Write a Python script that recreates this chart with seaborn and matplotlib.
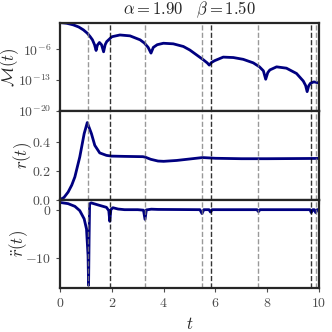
import numpy as np
import pandas as pd
import seaborn as sns
import matplotlib
matplotlib.use("Agg")
from matplotlib import pyplot as plt

# values
alpha = 1.90
beta = 1.50

t_M = [0.0, 0.25, 0.51, 0.72, 0.9, 1.05, 1.16, 1.25, 1.33, 1.39, 1.44, 1.52, 1.6, 1.68,
       1.74, 1.8, 2.0, 2.31, 2.7, 3.09, 3.25, 3.4, 3.51, 3.6, 3.75, 3.99, 4.37, 4.76,
       5.01, 5.27, 5.53, 5.68, 5.76, 5.85, 5.97, 6.3, 6.69, 7.07, 7.46, 7.7, 7.85, 7.94,
       8.02, 8.1, 8.36, 8.74, 9.13, 9.39, 9.48, 9.54, 9.6, 9.67, 9.8, 9.96, 10.0]
log_M = [0.0, -0.15, -0.52, -1.0, -1.65, -2.4, -3.17, -3.9, -5.0, -6.3, -5.1, -4.5, -5.0,
         -6.6, -5.0, -4.3, -3.2, -2.8, -3.0, -3.9, -4.6, -5.6, -6.9, -5.6, -5.0, -4.67,
         -4.8, -5.4, -6.2, -7.3, -8.4, -9.1, -9.6, -9.0, -8.6, -7.8, -7.9, -8.3, -9.1,
         -10.0, -10.9, -12.8, -11.3, -10.7, -10.0, -10.3, -11.5, -13.2, -14.2, -15.6,
         -14.3, -13.7, -13.4, -13.6, -13.7]

t_r = [0.0, 0.15, 0.31, 0.45, 0.57, 0.76, 0.93, 1.05, 1.21, 1.34, 1.53, 1.79, 1.98, 2.5,
       3.2, 3.3, 3.5, 3.78, 4.0, 4.5, 5.0, 5.5, 6.0, 7.0, 8.0, 9.0, 10.0]
r_vals = [0.0, 0.015, 0.052, 0.1, 0.156, 0.294, 0.455, 0.531, 0.455, 0.374, 0.322, 0.305,
          0.30, 0.298, 0.296, 0.292, 0.278, 0.266, 0.264, 0.270, 0.280, 0.290, 0.285,
          0.282, 0.282, 0.283, 0.284]

t_rdd = [0.0, 0.05, 0.31, 0.57, 0.76, 0.93, 1.02, 1.08, 1.1, 1.12, 1.14, 1.2, 1.47, 1.79,
         1.88, 1.92, 1.96, 2.04, 2.24, 2.49, 3.0, 3.22, 3.28, 3.33, 3.52, 3.78, 5.4, 5.48,
         5.55, 5.75, 5.81, 5.87, 7.6, 7.66, 7.72, 9.65, 9.7, 9.76, 9.82, 9.87, 9.93, 10.0]
rdd_vals = [1.45, 1.45, 1.24, 0.69, -0.2, -1.9, -4.0, -9.5, -15.6, -6.0, 1.2, 1.4, 0.97,
            0.48, -0.2, -2.4, 0.0, 0.4, 0.13, 0.0, 0.0, -0.1, -2.0, -0.05, 0.1, 0.05, 0.0,
            -0.8, 0.0, 0.0, -0.5, 0.0, 0.0, -0.4, 0.0, 0.0, -0.6, 0.0, 0.0, -0.6, 0.0, 0.0]

grey_lines = [1.09, 3.28, 5.48, 7.66, 9.87]
black_lines = [1.94, 5.82, 9.70]

sns.set_theme(style="ticks")
plt.rcParams.update({
    "font.family": "serif",
    "font.serif": ["cmr10"],
    "mathtext.fontset": "cm",
    "axes.formatter.use_mathtext": True,
    "axes.unicode_minus": False,
    "axes.linewidth": 1.6,
    "xtick.labelsize": 10,
    "ytick.labelsize": 10,
})

df_M = pd.DataFrame({"t": t_M, "M": [10.0 ** v for v in log_M]})
df_r = pd.DataFrame({"t": t_r, "r": r_vals})
df_rdd = pd.DataFrame({"t": t_rdd, "rdd": rdd_vals})

fig, axes = plt.subplots(3, 1, figsize=(3.32, 3.32), dpi=100, sharex=True)
fig.subplots_adjust(left=0.181, right=0.961, top=0.932, bottom=0.132, hspace=0)

line_col = "#000080"
sns.lineplot(data=df_M, x="t", y="M", ax=axes[0], color=line_col, lw=2)
sns.lineplot(data=df_r, x="t", y="r", ax=axes[1], color=line_col, lw=2)
sns.lineplot(data=df_rdd, x="t", y="rdd", ax=axes[2], color=line_col, lw=2)

for ax in axes:
    for x in grey_lines:
        ax.axvline(x, color="grey", ls="--", lw=1, alpha=0.8)
    for x in black_lines:
        ax.axvline(x, color="black", ls="--", lw=1, alpha=0.8)
    ax.set_xlabel("")
    ax.tick_params(length=3, width=0.8, colors="0.3")

axes[0].set_yscale("log")
axes[0].set_ylim(1e-20, 1)
axes[0].set_yticks([1e-20, 1e-13, 1e-6])
axes[0].minorticks_off()
axes[0].set_ylabel(r"$\mathcal{M}(t)$", fontsize=12)
axes[0].yaxis.set_label_coords(-0.15, 0.5)
axes[0].set_title(r"$\alpha = %.2f \quad \beta = %.2f$" % (alpha, beta), fontsize=12)

axes[1].set_ylim(0, 0.61)
axes[1].set_yticks([0.0, 0.2, 0.4])
axes[1].set_yticklabels(["$0.0$", "$0.2$", "$0.4$"])
axes[1].set_ylabel(r"$r(t)$", fontsize=12)
axes[1].yaxis.set_label_coords(-0.1, 0.5)

axes[2].set_ylim(-16.2, 2.07)
axes[2].set_yticks([-10, 0])
axes[2].set_yticklabels(["$-10$", "$0$"])
axes[2].set_ylabel(r"$\ddot{r}(t)$", fontsize=12)
axes[2].yaxis.set_label_coords(-0.116, 0.5)
axes[2].set_xlim(0, 10)
axes[2].set_xticks([0, 2, 4, 6, 8, 10])
axes[2].set_xticklabels(["$%d$" % v for v in [0, 2, 4, 6, 8, 10]])
axes[2].set_xlabel(r"$t$", fontsize=12)

fig.savefig("out.png", dpi=100)
